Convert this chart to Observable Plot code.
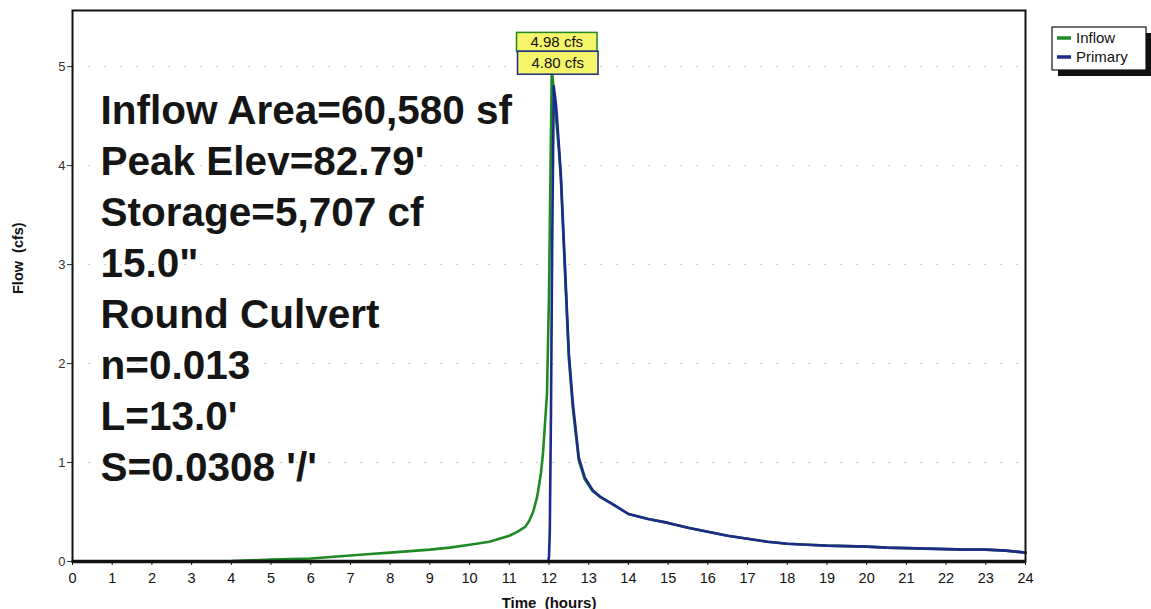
<!DOCTYPE html>
<html>
<head>
<meta charset="utf-8">
<script src="https://cdn.jsdelivr.net/npm/d3@7"></script>
<script src="https://cdn.jsdelivr.net/npm/@observablehq/plot@0.6"></script>
<style>
  html, body { margin: 0; padding: 0; background: #fff; }
  #chart { position: relative; width: 1151px; height: 609px; }
  svg { font-family: Arial, "Liberation Sans", sans-serif; }
</style>
</head>
<body>
<div id="chart"></div>
<script>
// ---- data ----
const inflowTime = [0, 1, 2, 3, 4, 4.5, 5, 5.5, 6, 6.5, 7, 7.5, 8, 8.5, 9, 9.5, 10, 10.5, 11, 11.2, 11.4, 11.5, 11.6, 11.7, 11.8, 11.85, 11.9, 11.95, 12.0, 12.04, 12.07, 12.1, 12.15, 12.25, 12.3, 12.4, 12.5, 12.6, 12.75, 12.9, 13.1, 13.3, 13.6, 14, 14.5, 15, 15.5, 16, 16.5, 17, 17.5, 18, 18.5, 19, 19.5, 20, 20.5, 21, 21.5, 22, 22.5, 23, 23.5, 24];
const inflowFlow = [0, 0, 0, 0, 0.005, 0.012, 0.02, 0.025, 0.03, 0.045, 0.06, 0.075, 0.09, 0.105, 0.12, 0.14, 0.17, 0.2, 0.26, 0.3, 0.35, 0.41, 0.5, 0.65, 0.9, 1.1, 1.4, 1.7, 2.7, 4.0, 4.98, 4.85, 4.6, 4.15, 3.85, 2.95, 2.05, 1.55, 1.02, 0.83, 0.71, 0.65, 0.58, 0.48, 0.43, 0.39, 0.34, 0.3, 0.26, 0.23, 0.2, 0.18, 0.17, 0.16, 0.155, 0.15, 0.14, 0.135, 0.13, 0.125, 0.12, 0.12, 0.11, 0.09];

const primaryTime = [0, 11.98, 12.0, 12.02, 12.05, 12.08, 12.12, 12.18, 12.25, 12.3, 12.4, 12.5, 12.6, 12.75, 12.9, 13.1, 13.3, 13.6, 14, 14.5, 15, 15.5, 16, 16.5, 17, 17.5, 18, 18.5, 19, 19.5, 20, 20.5, 21, 21.5, 22, 22.5, 23, 23.5, 24];
const primaryFlow = [0, 0, 0.05, 0.3, 1.5, 3.2, 4.80, 4.6, 4.2, 3.9, 3.0, 2.1, 1.6, 1.05, 0.85, 0.72, 0.65, 0.58, 0.48, 0.43, 0.39, 0.34, 0.3, 0.26, 0.23, 0.2, 0.18, 0.17, 0.16, 0.155, 0.15, 0.14, 0.135, 0.13, 0.125, 0.12, 0.12, 0.11, 0.09];

const peakTimes = [12.07, 12.12];
const peakFlows = [4.98, 4.80];
const peakLabels = ["4.98 cfs", "4.80 cfs"];
const seriesNames = ["Inflow", "Primary"];
const seriesColors = ["#1f8a24", "#1c2a8c"];

const xTicks = d3.range(0, 25, 1);
const yTicks = [0, 1, 2, 3, 4, 5];
const yGrid = [1, 2, 3, 4, 5];

const annotationLines = [
  "Inflow Area=60,580 sf",
  "Peak Elev=82.79'",
  "Storage=5,707 cf",
  "15.0\"",
  "Round Culvert",
  "n=0.013",
  "L=13.0'",
  "S=0.0308 '/'"
];

const xLabel = "Time  (hours)";
const yLabel = "Flow  (cfs)";

// ---- build tables ----
const inflow = inflowTime.map((t, i) => ({t, q: inflowFlow[i]}));
const primary = primaryTime.map((t, i) => ({t, q: primaryFlow[i]}));
const peaks = peakTimes.map((t, i) => ({t, q: peakFlows[i], label: peakLabels[i], color: seriesColors[i]}));

const plot = Plot.plot({
  width: 1151,
  height: 609,
  marginLeft: 72,
  marginRight: 126,
  marginTop: 10,
  marginBottom: 48,
  style: {fontFamily: "Arial, 'Liberation Sans', sans-serif", background: "#fff", overflow: "visible"},
  x: {domain: [0, 24]},
  y: {domain: [0, 5.567]},
  marks: [
    Plot.gridY(yGrid, {stroke: "#9a9a9a", strokeOpacity: 0.55, strokeDasharray: "2,14"}),
    Plot.axisX(xTicks, {tickSize: 4, tickPadding: 7, fontSize: 14.5, color: "#111", label: null, tickFormat: d => d}),
    Plot.axisY(yTicks, {tickSize: 5, tickPadding: 2, fontSize: 13, color: "#333", label: null, tickFormat: d => d}),
    Plot.line(inflow, {x: "t", y: "q", stroke: seriesColors[0], strokeWidth: 2.6, curve: "linear"}),
    Plot.line(primary, {x: "t", y: "q", stroke: seriesColors[1], strokeWidth: 2.6, curve: "linear"}),
    Plot.frame({stroke: "#111", strokeWidth: 2}),
    Plot.ruleY([0], {stroke: "#111", strokeWidth: 3.5}),
    Plot.text([annotationLines.join("\n")], {
      frameAnchor: "top-left", dx: 28, dy: 77, fontSize: 40.5, fontWeight: "bold",
      lineHeight: 1.26, textAnchor: "start", fill: "#151515"
    }),
    Plot.text([xLabel], {frameAnchor: "bottom", dy: 46, fontSize: 15, fontWeight: "bold", fill: "#111"}),
    Plot.text([yLabel], {frameAnchor: "left", dx: -54, dy: 8, rotate: -90, fontSize: 14.5, fontWeight: "bold", fill: "#111"}),
    Plot.text(peaks.slice(0, 1), {x: "t", y: "q", text: "label", dx: 5, dy: -26, fontSize: 15, fill: "#111"}),
    Plot.text(peaks.slice(1, 2), {x: "t", y: "q", text: "label", dx: 4, dy: -23, fontSize: 15, fill: "#111"})
  ]
});
document.getElementById("chart").appendChild(plot);

const svg = d3.select(plot);

// yellow boxes behind the peak labels (same transform as the text)
svg.selectAll("text").filter(function() { return peakLabels.includes(this.textContent.trim()); })
  .each(function() {
    const gi = peakLabels.indexOf(this.textContent.trim());
    const bb = this.getBBox();
    const padX = 14, padY = gi === 0 ? 1 : 3;
    const r = document.createElementNS("http://www.w3.org/2000/svg", "rect");
    this.parentNode.insertBefore(r, this);
    d3.select(r)
      .attr("transform", this.getAttribute("transform"))
      .attr("x", bb.x - padX).attr("y", bb.y - padY)
      .attr("width", bb.width + 2 * padX).attr("height", bb.height + 2 * padY)
      .attr("fill", "#f6f56a").attr("stroke", peaks[gi].color).attr("stroke-width", 1.5);
  });

// legend in the right margin
const lg = svg.append("g").attr("transform", "translate(1052,27)").attr("text-anchor", "start");
lg.append("rect").attr("x", 6).attr("y", 6).attr("width", 94).attr("height", 43).attr("fill", "#111");
lg.append("rect").attr("x", 0).attr("y", 0).attr("width", 94).attr("height", 43).attr("fill", "#fff").attr("stroke", "#111").attr("stroke-width", 1.2);
seriesNames.forEach((name, i) => {
  const yy = 11 + i * 19;
  lg.append("line").attr("x1", 5).attr("x2", 19).attr("y1", yy).attr("y2", yy)
    .attr("stroke", seriesColors[i]).attr("stroke-width", 3.5);
  lg.append("text").attr("x", 24).attr("y", yy).attr("dy", "0.35em").attr("text-anchor", "start")
    .attr("font-size", 15).attr("fill", "#111").text(name);
});
</script>
</body>
</html>
